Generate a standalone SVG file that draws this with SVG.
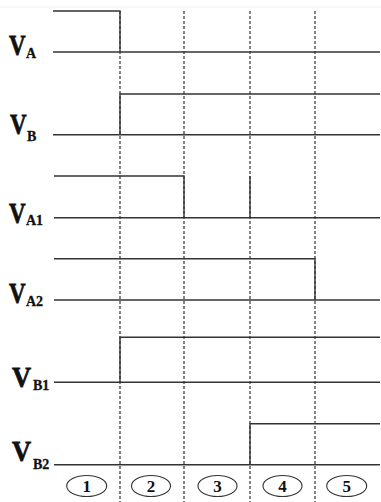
<svg xmlns="http://www.w3.org/2000/svg" width="381" height="502" viewBox="0 0 381 502">
<style>
.sig{stroke:#333;stroke-width:1.4;fill:none}
.grid{stroke:#333;stroke-width:1.2;stroke-dasharray:3 2;fill:none}
.v{font-family:"Liberation Serif","Times New Roman",serif;font-weight:bold;font-size:23px;fill:#111;stroke:#111;stroke-width:0.6}
.s{font-family:"Liberation Serif","Times New Roman",serif;font-weight:bold;font-size:14px;fill:#111;stroke:#111;stroke-width:0.3}
.ell{fill:#fff;stroke:#333;stroke-width:1.1}
.num{font-family:"Liberation Serif","Times New Roman",serif;font-weight:bold;font-size:17px;fill:#111;text-anchor:middle}
</style>
<rect width="381" height="502" fill="#fff"/>
<line x1="0" y1="7" x2="381" y2="7" stroke="#eee" stroke-width="1"/>
<g id="connectors">
<g id="grid">
<line class="grid" x1="120" y1="11" x2="120" y2="502"/>
<line class="grid" x1="184" y1="11" x2="184" y2="502"/>
<line class="grid" x1="250" y1="11" x2="250" y2="502"/>
<line class="grid" x1="315" y1="11" x2="315" y2="502"/>
</g>
<g id="sig-VA">
<polyline class="sig" points="53,11 120,11 120,52"/>
<line class="sig" x1="53" y1="52" x2="380" y2="52"/>
</g>
<g id="sig-VB">
<polyline class="sig" points="380,94 120,94 120,134.7"/>
<line class="sig" x1="53" y1="134.7" x2="380" y2="134.7"/>
</g>
<g id="sig-VA1">
<polyline class="sig" points="54,176 184,176 184,217.7"/>
<line class="sig" x1="250" y1="176" x2="250" y2="217.7"/>
<line class="sig" x1="54" y1="217.7" x2="380" y2="217.7"/>
</g>
<g id="sig-VA2">
<polyline class="sig" points="54,258.7 315,258.7 315,300"/>
<line class="sig" x1="54" y1="300" x2="380" y2="300"/>
</g>
<g id="sig-VB1">
<polyline class="sig" points="380,337.3 120,337.3 120,382.3"/>
<line class="sig" x1="54" y1="382.3" x2="380" y2="382.3"/>
</g>
<g id="sig-VB2">
<polyline class="sig" points="380,423.7 250,423.7 250,464.7"/>
<line class="sig" x1="54" y1="464.7" x2="380" y2="464.7"/>
</g>
</g>
<g id="label-VA"><text class="v" transform="translate(9,55) scale(1,1.3)">V</text><text class="s" x="26" y="58">A</text></g>
<g id="label-VB"><text class="v" transform="translate(10,134) scale(1,1.3)">V</text><text class="s" x="27" y="141">B</text></g>
<g id="label-VA1"><text class="v" transform="translate(9,223) scale(1,1.3)">V</text><text class="s" x="26" y="225">A1</text></g>
<g id="label-VA2"><text class="v" transform="translate(9,303) scale(1,1.3)">V</text><text class="s" x="26" y="306">A2</text></g>
<g id="label-VB1"><text class="v" transform="translate(12,387) scale(1.15,1.3)">V</text><text class="s" x="33" y="390">B1</text></g>
<g id="label-VB2"><text class="v" transform="translate(12,461) scale(1.15,1.3)">V</text><text class="s" x="33" y="469">B2</text></g>
<g id="phase-1"><ellipse class="ell" cx="86.7" cy="486" rx="20" ry="10.5"/><text class="num" x="86.7" y="492">1</text></g>
<g id="phase-2"><ellipse class="ell" cx="151" cy="486" rx="19.5" ry="10.5"/><text class="num" x="151" y="492">2</text></g>
<g id="phase-3"><ellipse class="ell" cx="217.5" cy="486" rx="19.5" ry="10.5"/><text class="num" x="217.5" y="492">3</text></g>
<g id="phase-4"><ellipse class="ell" cx="282.5" cy="486" rx="19.5" ry="10.5"/><text class="num" x="282.5" y="492">4</text></g>
<g id="phase-5"><ellipse class="ell" cx="346.7" cy="486" rx="20" ry="10.5"/><text class="num" x="346.7" y="492">5</text></g>
</svg>
